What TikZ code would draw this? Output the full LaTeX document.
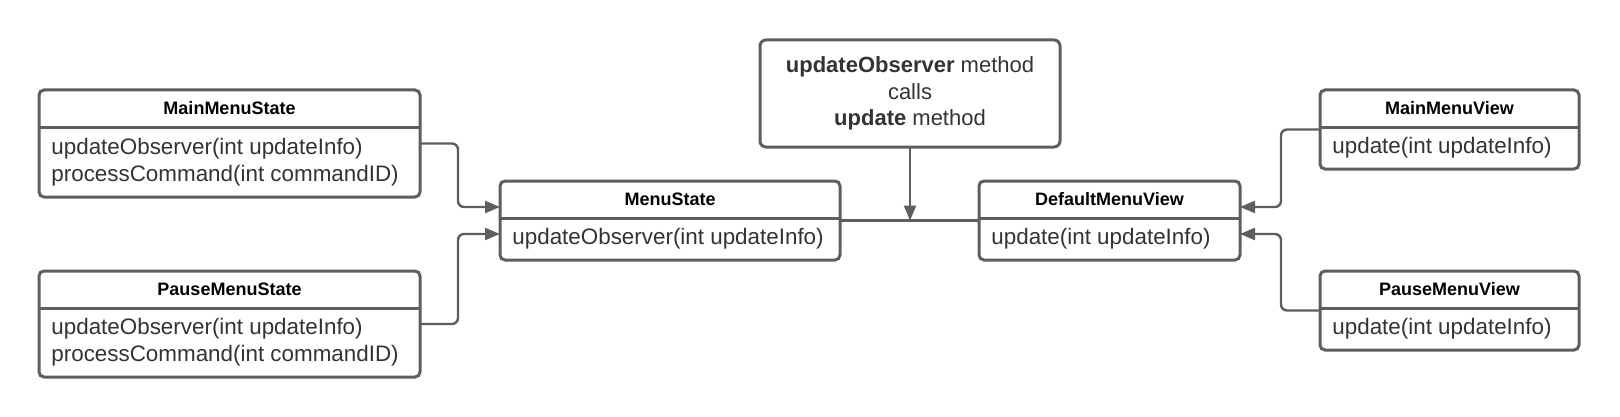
\documentclass[tikz,border=0pt]{standalone}
\usepackage{fontspec}
\setmainfont{Liberation Sans}
\usetikzlibrary{arrows.meta,calc}
\definecolor{strk}{HTML}{5E5E5E}
\definecolor{txt}{HTML}{333333}
\tikzset{
  classbox/.style={draw=strk, line width=1.5pt, rounded corners=2.5pt, fill=white, inner sep=0pt, outer sep=0pt, rectangle},
  notebox/.style={draw=strk, line width=1.5pt, rounded corners=3pt, fill=white, inner sep=0pt, outer sep=0pt, rectangle, align=center, text=txt, font=\fontsize{11}{13.3}\selectfont},
  titletext/.style={font=\fontsize{9}{11}\selectfont\bfseries, text=black, inner sep=0pt},
  methtext/.style={font=\fontsize{11.2}{13.5}\selectfont, text=txt, align=left, inner sep=0pt},
  divline/.style={draw=strk, line width=1.5pt},
  conn/.style={draw=strk, line width=1.2pt, rounded corners=3pt, -{Triangle[length=7.5pt,width=6pt]}},
  plainline/.style={draw=strk, line width=1.2pt},
}
\newcommand{\umlclass}[8]{%
  \pgfmathsetmacro\uw{(#4-#2)*0.5}%
  \pgfmathsetmacro\uh{(#5-#3)*0.5}%
  \node[classbox, minimum width=\uw pt, minimum height=\uh pt] (#1) at ({(#2+#4)/2},{(#3+#5)/2}) {};
  \node[titletext] (#1-t) at ({(#2+#4)/2},{(#3+#6)/2}) {#7};
  \draw[divline] (#1.west |- 0,#6) -- (#1.east |- 0,#6);
  \node[methtext, anchor=west] (#1-m) at ({#2+12},{(#6+#5)/2}) {#8};
}
\begin{document}
\begin{tikzpicture}[x=0.5pt,y=-0.5pt]
\useasboundingbox (0,0) rectangle (1620,417);
\umlclass{MMS}{39}{90}{420}{197}{127}{MainMenuState}{updateObserver(int updateInfo)\\processCommand(int commandID)}
\umlclass{PMS}{39}{271}{420}{377}{308}{PauseMenuState}{updateObserver(int updateInfo)\\processCommand(int commandID)}
\umlclass{MS}{500}{181}{840}{260}{218}{MenuState}{updateObserver(int updateInfo)}
\umlclass{DMV}{979}{181}{1240}{260}{218}{DefaultMenuView}{update(int updateInfo)}
\umlclass{MMV}{1320}{90}{1579}{169}{127}{MainMenuView}{update(int updateInfo)}
\umlclass{PMV}{1320}{271}{1579}{350}{308}{PauseMenuView}{update(int updateInfo)}
\node[notebox, minimum width=150pt, minimum height=53.5pt] (note) at (910,93.5)
  {\textbf{updateObserver} method\\calls\\\textbf{update} method};
% connectors
\draw[conn] (MMS.east) -- ++(38,0) |- ([yshift=6.75pt]MS.west);
\draw[conn] (PMS.east) -- ++(38,0) |- ([yshift=-6.75pt]MS.west);
\draw[conn] (MMV.west) -- ++(-39,0) |- ([yshift=6.75pt]DMV.east);
\draw[conn] (PMV.west) -- ++(-39,0) |- ([yshift=-6.75pt]DMV.east);
\draw[plainline] (MS.east) -- (DMV.west);
\draw[conn] (note.south) -- (note.south |- MS.east);
\end{tikzpicture}
\end{document}
